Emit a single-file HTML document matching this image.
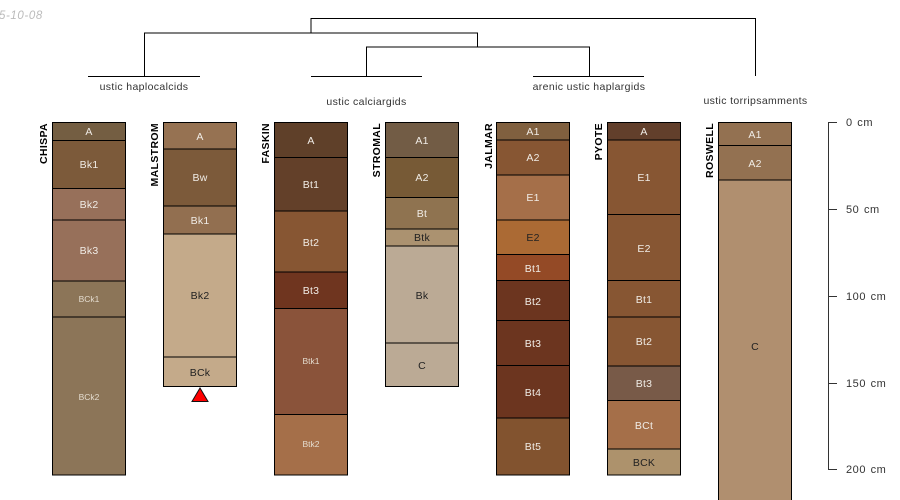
<!DOCTYPE html>
<html><head><meta charset="utf-8"><style>
html,body{margin:0;padding:0;background:#fff}
svg{display:block}
text{font-family:"Liberation Sans",sans-serif}
.h{font-size:10.5px;text-anchor:middle;fill:#f0ece6;letter-spacing:.25px}
.k{fill:#222}
.s{font-size:8.5px;fill:#e4dccf;letter-spacing:0}
.t{font-size:10.5px;text-anchor:middle;fill:#333;letter-spacing:.36px}
.n{font-size:10.5px;font-weight:bold;fill:#000;text-anchor:end;letter-spacing:.35px}
.c{font-size:11px;fill:#333;letter-spacing:.55px;word-spacing:1px}
</style></head><body>
<svg width="900" height="500" viewBox="0 0 900 500" xmlns="http://www.w3.org/2000/svg">
<text x="-1" y="19" font-size="11.5" font-style="italic" fill="#bbb" letter-spacing=".6">5-10-08</text>
<g fill="none" stroke="#000" stroke-width="1">
<path d="M311 18.500H755.500V76M311 18V33M144.500 76V33H477.500V47M366.500 76V47H589.500V76"/>
<path d="M88 76.500H200M311 76.500H422M533 76.500H644"/>
</g>
<text class="t" x="144" y="90">ustic haplocalcids</text>
<text class="t" x="366.500" y="105">ustic calciargids</text>
<text class="t" x="589" y="90">arenic ustic haplargids</text>
<text class="t" x="755.500" y="104">ustic torripsamments</text>

<g stroke="#000" stroke-width="1">
<rect x="52.500" y="122.500" width="73" height="18" fill="#745e42"/>
<rect x="52.500" y="140.500" width="73" height="48" fill="#7c5a3a"/>
<rect x="52.500" y="188.500" width="73" height="31.500" fill="#97705a"/>
<rect x="52.500" y="220" width="73" height="61" fill="#97705a"/>
<rect x="52.500" y="281" width="73" height="36" fill="#8c7558"/>
<rect x="52.500" y="317" width="73" height="158" fill="#8c7558"/>

<rect x="163.500" y="122.500" width="73" height="26.500" fill="#967252"/>
<rect x="163.500" y="149" width="73" height="57" fill="#7c5a3a"/>
<rect x="163.500" y="206" width="73" height="28" fill="#926f50"/>
<rect x="163.500" y="234" width="73" height="123" fill="#c4aa8a"/>
<rect x="163.500" y="357" width="73" height="29.500" fill="#c4aa8a"/>

<rect x="274.500" y="122.500" width="73" height="35" fill="#5f4029"/>
<rect x="274.500" y="157.500" width="73" height="53.500" fill="#634029"/>
<rect x="274.500" y="211" width="73" height="61" fill="#875633"/>
<rect x="274.500" y="272" width="73" height="36.500" fill="#6f351f"/>
<rect x="274.500" y="308.500" width="73" height="106" fill="#8a533a"/>
<rect x="274.500" y="414.500" width="73" height="60.500" fill="#a56f49"/>

<rect x="385.500" y="122.500" width="73" height="35" fill="#725c45"/>
<rect x="385.500" y="157.500" width="73" height="40" fill="#775a36"/>
<rect x="385.500" y="197.500" width="73" height="31.500" fill="#8f7350"/>
<rect x="385.500" y="229" width="73" height="17" fill="#ab9270"/>
<rect x="385.500" y="246" width="73" height="97" fill="#bbaa95"/>
<rect x="385.500" y="343" width="73" height="43.500" fill="#bbaa95"/>

<rect x="496.500" y="122.500" width="73" height="17.500" fill="#80603f"/>
<rect x="496.500" y="140" width="73" height="35" fill="#875633"/>
<rect x="496.500" y="175" width="73" height="45" fill="#a56f49"/>
<rect x="496.500" y="220" width="73" height="34.500" fill="#ab6a34"/>
<rect x="496.500" y="254.500" width="73" height="26" fill="#944a26"/>
<rect x="496.500" y="280.500" width="73" height="40" fill="#6c351f"/>
<rect x="496.500" y="320.500" width="73" height="45" fill="#6c351f"/>
<rect x="496.500" y="365.500" width="73" height="52.500" fill="#6c351f"/>
<rect x="496.500" y="418" width="73" height="57" fill="#82532f"/>

<rect x="607.500" y="122.500" width="73" height="17.500" fill="#623f2b"/>
<rect x="607.500" y="140" width="73" height="74.500" fill="#875633"/>
<rect x="607.500" y="214.500" width="73" height="66" fill="#875633"/>
<rect x="607.500" y="280.500" width="73" height="36.500" fill="#875633"/>
<rect x="607.500" y="317" width="73" height="49" fill="#875633"/>
<rect x="607.500" y="366" width="73" height="34.500" fill="#785a48"/>
<rect x="607.500" y="400.500" width="73" height="48.500" fill="#a56f49"/>
<rect x="607.500" y="449" width="73" height="26" fill="#ad926c"/>

<rect x="718.500" y="122.500" width="73" height="23" fill="#937151"/>
<rect x="718.500" y="145.500" width="73" height="34.500" fill="#937151"/>
<rect x="718.500" y="180" width="73" height="330" fill="#b08f6f"/>
</g>

<text class="h" x="89" y="135">A</text>
<text class="h" x="89" y="168">Bk1</text>
<text class="h" x="89" y="208">Bk2</text>
<text class="h" x="89" y="254">Bk3</text>
<text class="h s" x="89" y="302">BCk1</text>
<text class="h s" x="89" y="400">BCk2</text>

<text class="h" x="200" y="140">A</text>
<text class="h" x="200" y="181">Bw</text>
<text class="h" x="200" y="224">Bk1</text>
<text class="h k" x="200" y="299">Bk2</text>
<text class="h k" x="200" y="376">BCk</text>

<text class="h" x="311" y="144">A</text>
<text class="h" x="311" y="188">Bt1</text>
<text class="h" x="311" y="246">Bt2</text>
<text class="h" x="311" y="294">Bt3</text>
<text class="h s" x="311" y="364">Btk1</text>
<text class="h s" x="311" y="447">Btk2</text>

<text class="h" x="422" y="144">A1</text>
<text class="h" x="422" y="181">A2</text>
<text class="h" x="422" y="217">Bt</text>
<text class="h k" x="422" y="241">Btk</text>
<text class="h k" x="422" y="299">Bk</text>
<text class="h k" x="422" y="369">C</text>

<text class="h" x="533" y="135">A1</text>
<text class="h" x="533" y="161">A2</text>
<text class="h" x="533" y="201">E1</text>
<text class="h k" x="533" y="241">E2</text>
<text class="h" x="533" y="272">Bt1</text>
<text class="h" x="533" y="305">Bt2</text>
<text class="h" x="533" y="347">Bt3</text>
<text class="h" x="533" y="396">Bt4</text>
<text class="h" x="533" y="450">Bt5</text>

<text class="h" x="644" y="135">A</text>
<text class="h" x="644" y="181">E1</text>
<text class="h" x="644" y="252">E2</text>
<text class="h" x="644" y="303">Bt1</text>
<text class="h" x="644" y="345">Bt2</text>
<text class="h" x="644" y="387">Bt3</text>
<text class="h" x="644" y="429">BCt</text>
<text class="h k" x="644" y="466">BCK</text>

<text class="h" x="755" y="138">A1</text>
<text class="h" x="755" y="167">A2</text>
<text class="h k" x="755" y="350">C</text>

<text class="n" transform="translate(47 123) rotate(-90)">CHISPA</text>
<text class="n" transform="translate(158 123) rotate(-90)">MALSTROM</text>
<text class="n" transform="translate(269 123) rotate(-90)">FASKIN</text>
<text class="n" transform="translate(380 123) rotate(-90)">STROMAL</text>
<text class="n" transform="translate(492 123) rotate(-90)">JALMAR</text>
<text class="n" transform="translate(602 123) rotate(-90)">PYOTE</text>
<text class="n" transform="translate(713 123) rotate(-90)">ROSWELL</text>

<path d="M192 401.500L200 388L208 401.500Z" fill="#f00" stroke="#111" stroke-width="1"/>

<path d="M837 122.500H828.500V469.500H837M828.500 209.500H837M828.500 296.500H837M828.500 383.500H837" fill="none" stroke="#333" stroke-width="1"/>
<text class="c" x="846" y="126">0 cm</text>
<text class="c" x="846" y="213">50 cm</text>
<text class="c" x="846" y="300">100 cm</text>
<text class="c" x="846" y="387">150 cm</text>
<text class="c" x="846" y="473">200 cm</text>
</svg>
</body></html>
